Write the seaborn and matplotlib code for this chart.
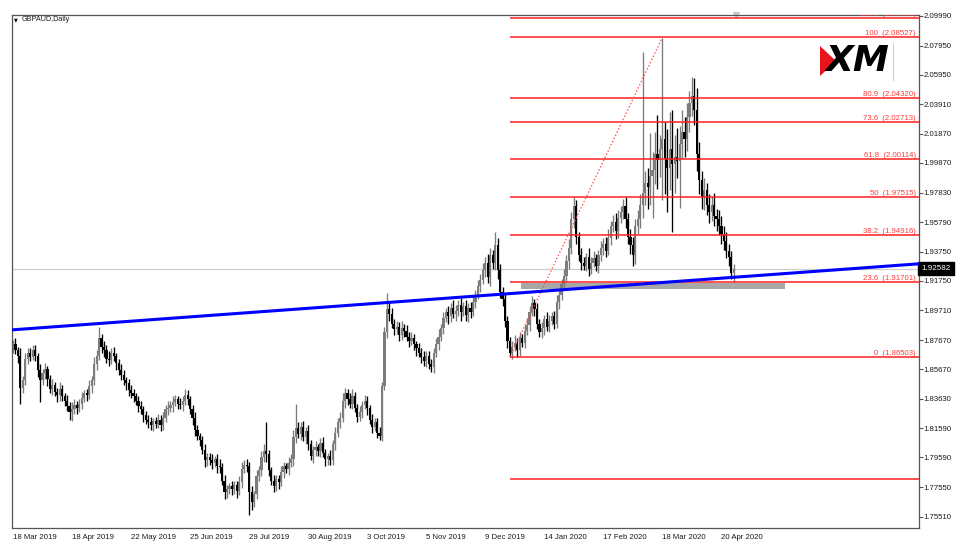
import numpy as np
import pandas as pd
import matplotlib
matplotlib.use('Agg')
import matplotlib.pyplot as plt
import matplotlib.transforms as mtransforms
from matplotlib.patches import Polygon, Rectangle
from matplotlib.lines import Line2D
import seaborn as sns

# Style: plain white MT4-like chart
sns.set_style('white')
plt.rcParams['font.family'] = ['Liberation Sans', 'DejaVu Sans']

symbol = 'GBPAUD,Daily'

# x axis: bar index of each date label
tick_bars = [0, 24, 48, 72, 96, 120, 144, 168, 192, 216, 240, 264, 288]
tick_dates = ['18 Mar 2019', '18 Apr 2019', '22 May 2019', '25 Jun 2019', '29 Jul 2019',
              '30 Aug 2019', '3 Oct 2019', '5 Nov 2019', '9 Dec 2019', '14 Jan 2020',
              '17 Feb 2020', '18 Mar 2020', '20 Apr 2020']

# y axis labels as shown by the terminal
price_ticks = [2.09990, 2.07950, 2.05950, 2.03910, 2.01870, 1.99870, 1.97830, 1.95790,
               1.93750, 1.91750, 1.89710, 1.87670, 1.85670, 1.83630, 1.81590, 1.79590,
               1.77550, 1.75510]

# daily closes (open = previous close)
first_open = 1.8720
closes = [
    1.8740, 1.8700, 1.8660, 1.8440, 1.8490, 1.8640, 1.8680, 1.8650, 1.8700, 1.8660,
    1.8560, 1.8490, 1.8540, 1.8570, 1.8500, 1.8430, 1.8460, 1.8410, 1.8390, 1.8430,
    1.8380, 1.8350, 1.8310, 1.8270, 1.8290, 1.8320, 1.8300, 1.8330, 1.8370, 1.8400,
    1.8390, 1.8450, 1.8490, 1.8600, 1.8660, 1.8780, 1.8720, 1.8700, 1.8640, 1.8630,
    1.8680, 1.8660, 1.8610, 1.8560, 1.8530, 1.8490, 1.8470, 1.8420, 1.8400, 1.8380,
    1.8350, 1.8310, 1.8290, 1.8250, 1.8220, 1.8200, 1.8180, 1.8210, 1.8190, 1.8220,
    1.8180, 1.8230, 1.8290, 1.8300, 1.8320, 1.8340, 1.8360, 1.8330, 1.8320, 1.8350,
    1.8390, 1.8360, 1.8290, 1.8230, 1.8150, 1.8110, 1.8080, 1.8010, 1.7940, 1.7960,
    1.7940, 1.7920, 1.7950, 1.7900, 1.7890, 1.7800, 1.7720, 1.7740, 1.7760, 1.7740,
    1.7770, 1.7730, 1.7790, 1.7880, 1.7910, 1.7900, 1.7720, 1.7650, 1.7710, 1.7830,
    1.7870, 1.7960, 1.8000, 1.7980, 1.7870, 1.7800, 1.7760, 1.7810, 1.7790, 1.7860,
    1.7900, 1.7880, 1.7920, 1.7950, 1.8100, 1.8160, 1.8120, 1.8170, 1.8100, 1.8140,
    1.8050, 1.7970, 1.8010, 1.8030, 1.8000, 1.8060, 1.7990, 1.7950, 1.7970, 1.7940,
    1.8050, 1.8130, 1.8200, 1.8230, 1.8350, 1.8400, 1.8360, 1.8330, 1.8380, 1.8300,
    1.8240, 1.8270, 1.8320, 1.8350, 1.8300, 1.8220, 1.8170, 1.8200, 1.8130, 1.8110,
    1.8450, 1.8820, 1.8980, 1.8950, 1.8880, 1.8840, 1.8860, 1.8800, 1.8850, 1.8830,
    1.8790, 1.8760, 1.8780, 1.8740, 1.8710, 1.8680, 1.8650, 1.8620, 1.8660, 1.8600,
    1.8580, 1.8680, 1.8740, 1.8790, 1.8850, 1.8920, 1.8960, 1.8930, 1.8990, 1.8950,
    1.8970, 1.9010, 1.8960, 1.9000, 1.8940, 1.8990, 1.8960, 1.9030, 1.9080, 1.9140,
    1.9180, 1.9250, 1.9300, 1.9200, 1.9350, 1.9300, 1.9420, 1.9250, 1.9100, 1.9050,
    1.8900, 1.8760, 1.8680, 1.8720, 1.8750, 1.8700, 1.8780, 1.8750, 1.8830, 1.8870,
    1.8960, 1.9020, 1.8980, 1.8880, 1.8820, 1.8850, 1.8910, 1.8860, 1.8900, 1.8930,
    1.8880, 1.9030, 1.9080, 1.9150, 1.9210, 1.9310, 1.9400, 1.9600, 1.9690, 1.9480,
    1.9350, 1.9300, 1.9280, 1.9340, 1.9260, 1.9300, 1.9330, 1.9280, 1.9350, 1.9400,
    1.9430, 1.9380, 1.9470, 1.9550, 1.9580, 1.9520, 1.9610, 1.9650, 1.9690, 1.9600,
    1.9480, 1.9420, 1.9350, 1.9550, 1.9600, 1.9700, 1.9780, 1.9850, 1.9820, 1.9900,
    1.9940, 2.0050, 2.0010, 2.0080, 2.0150, 2.0020, 1.9950, 2.0080, 1.9980, 2.0030,
    2.0000, 2.0120, 2.0200, 2.0150, 2.0300, 2.0400, 2.0450, 2.0350, 2.0050, 1.9870,
    1.9750, 1.9800, 1.9700, 1.9650, 1.9700, 1.9620, 1.9600, 1.9550, 1.9500, 1.9450,
    1.9380, 1.9340, 1.9230, 1.92582,
]

# upper / lower shadow lengths in units of 0.001
wick_up = [
    3, 4, 2, 5, 3, 4, 3, 3, 3, 3, 2, 4, 3, 4, 2, 3, 4, 2, 3, 5,
    3, 2, 4, 3, 5, 4, 3, 3, 4, 2, 3, 4, 3, 5, 4, 8, 3, 4, 3, 5,
    3, 4, 2, 3, 4, 3, 2, 3, 4, 3, 2, 3, 4, 2, 3, 3, 4, 2, 3, 4,
    3, 4, 3, 5, 3, 4, 3, 2, 4, 3, 4, 3, 2, 3, 4, 3, 2, 3, 4, 3,
    3, 4, 2, 3, 5, 3, 4, 3, 2, 4, 3, 3, 4, 5, 3, 4, 3, 4, 2, 4,
    3, 4, 5, 20, 3, 2, 4, 3, 3, 4, 3, 2, 4, 3, 5, 17, 4, 3, 4, 3,
    4, 3, 3, 4, 2, 3, 4, 3, 2, 4, 3, 4, 3, 4, 5, 4, 3, 4, 5, 3,
    3, 4, 3, 4, 3, 2, 4, 3, 3, 4, 3, 4, 11, 5, 4, 3, 4, 3, 5, 3,
    4, 3, 4, 3, 2, 4, 3, 4, 3, 3, 4, 3, 4, 5, 3, 4, 3, 4, 3, 5,
    4, 3, 5, 3, 4, 3, 4, 5, 3, 4, 4, 5, 4, 6, 5, 4, 9, 5, 4, 3,
    4, 3, 3, 4, 5, 3, 4, 3, 4, 5, 4, 5, 3, 4, 3, 4, 3, 5, 4, 3,
    4, 5, 3, 4, 5, 4, 6, 5, 6, 4, 3, 5, 4, 3, 6, 4, 5, 3, 4, 5,
    4, 5, 6, 4, 5, 6, 5, 4, 5, 6, 4, 5, 6, 5, 6, 7, 97, 8, 10, 29,
    12, 15, 27, 10, 70, 12, 20, 26, 27, 15, 20, 12, 15, 10, 10, 8, 13, 12, 15, 8,
    6, 8, 5, 7, 6, 8, 5, 6, 7, 5, 6, 5, 4, 3,
]
wick_dn = [
    4, 3, 5, 11, 4, 3, 4, 3, 2, 4, 5, 15, 3, 4, 5, 3, 4, 3, 5, 4,
    3, 4, 3, 5, 6, 3, 4, 3, 4, 3, 4, 3, 5, 3, 4, 3, 4, 5, 3, 4,
    3, 4, 5, 3, 4, 3, 5, 4, 3, 4, 3, 4, 3, 5, 3, 4, 3, 4, 3, 3,
    4, 3, 3, 4, 3, 5, 3, 4, 3, 4, 3, 4, 3, 5, 4, 3, 4, 3, 5, 4,
    3, 4, 3, 5, 4, 3, 5, 4, 3, 4, 3, 5, 3, 4, 3, 4, 16, 5, 3, 4,
    3, 4, 3, 5, 4, 3, 4, 3, 5, 3, 4, 3, 4, 3, 5, 4, 3, 4, 3, 5,
    4, 3, 5, 4, 3, 4, 3, 5, 4, 3, 3, 4, 3, 4, 3, 5, 4, 3, 4, 3,
    4, 3, 4, 3, 5, 3, 4, 3, 4, 3, 4, 3, 4, 5, 3, 4, 3, 4, 3, 4,
    3, 4, 3, 4, 5, 3, 4, 3, 4, 3, 3, 4, 3, 4, 3, 4, 3, 5, 4, 3,
    5, 4, 6, 3, 4, 5, 4, 3, 4, 3, 4, 3, 5, 4, 6, 4, 5, 6, 4, 5,
    4, 5, 3, 4, 3, 5, 4, 3, 4, 3, 4, 3, 5, 4, 3, 4, 5, 3, 4, 3,
    4, 3, 5, 4, 3, 4, 5, 4, 6, 5, 4, 5, 3, 4, 5, 4, 3, 4, 5, 4,
    5, 4, 3, 5, 4, 6, 5, 4, 5, 6, 5, 6, 7, 6, 5, 6, 9, 8, 15, 12,
    29, 10, 20, 12, 35, 25, 30, 15, 47, 20, 12, 32, 10, 12, 8, 10, 9, 10, 12, 10,
    8, 9, 7, 8, 6, 7, 8, 6, 7, 6, 5, 6, 4, 6,
]

last_price = 1.92582

# Fibonacci retracement drawn from the Dec 2019 low to the Mar 2020 high
fib_start_bar, fib_end_bar = 202, 264
fib_low, fib_high = 1.86503, 2.08527
fib_ratios = ['0', '23.6', '38.2', '50', '61.8', '73.6', '80.9', '100', '105.9']
fib_prices = [1.86503, 1.91701, 1.94916, 1.97515, 2.00114, 2.02713, 2.04320, 2.08527, 2.09826]
extra_level = 1.78090

# long-term trendline anchors (bar, price)
trend_a = (0, 1.8838)
trend_b = (368, 1.9292)

# grey support zone (bars, prices)
zone_bars = (206.5, 314.0)
zone_prices = (1.9117, 1.9163)

# ---- build OHLC ----
df = pd.DataFrame({'close': closes})
df['open'] = df['close'].shift(1).fillna(first_open)
df['high'] = df[['open', 'close']].max(axis=1) + np.array(wick_up) / 1000
df['low'] = df[['open', 'close']].min(axis=1) - np.array(wick_dn) / 1000
df['bar'] = np.arange(len(df))
up = df['close'] >= df['open']

W, H = 964, 552
fig = plt.figure(figsize=(W / 100, H / 100), dpi=100)
ax = fig.add_axes([12 / W, 1 - 527.5 / H, 906.5 / W, 513 / H])

bull_col = '#7c7c7c'
bear_col = '#000000'

# current price line
ax.axhline(last_price, color='#cfcfcf', lw=0.9, zorder=0.5)

# support zone
ax.add_patch(Rectangle((zone_bars[0], zone_prices[0]), zone_bars[1] - zone_bars[0],
                       zone_prices[1] - zone_prices[0], facecolor='#a8a8a8',
                       edgecolor='none', zorder=1))

# candles
for mask, col in [(up, bull_col), (~up, bear_col)]:
    d = df[mask]
    ax.vlines(d['bar'], d['low'], d['high'], color=col, lw=0.95, zorder=2)
    body_lo = d[['open', 'close']].min(axis=1)
    body_h = (d['close'] - d['open']).abs()
    ax.bar(d['bar'], body_h, bottom=body_lo, width=0.88, color=col, linewidth=0, zorder=2)

# fibo levels
lvl_tf = mtransforms.blended_transform_factory(ax.transAxes, ax.transData)
for r, p in zip(fib_ratios, fib_prices):
    ax.hlines(p, fib_start_bar, 400, color='#ff2020', lw=1.1, zorder=3)
    ax.text(0.997, p, f'{r}  ({p:.5f})', transform=lvl_tf,
            ha='right', va='bottom', fontsize=5.6, color='#ff3a3a', zorder=4, clip_on=True)
ax.hlines(extra_level, fib_start_bar, 400, color='#ff2020', lw=1.1, zorder=3)
sns.lineplot(x=[fib_start_bar, fib_end_bar], y=[fib_low, fib_high], ax=ax,
             color='#ff5050', lw=0.9, linestyle=(0, (1.2, 1.6)), zorder=3)

# trendline
ax.axline(trend_a, trend_b, color='#0000ff', lw=2.2, zorder=5)

ax.set_xlim(-0.4, 368.1)
ax.set_ylim(1.74766, 2.1009)

# axes styling
for s in ax.spines.values():
    s.set_color('#555555')
    s.set_linewidth(0.9)
ax.yaxis.tick_right()
ax.set_yticks(price_ticks)
ax.set_yticklabels([f'{p:.5f}' for p in price_ticks])
ax.set_xticks(tick_bars)
ax.set_xticklabels(tick_dates)
ax.tick_params(axis='both', direction='out', length=3, width=0.8, color='#555555',
               labelsize=5.6, labelcolor='#1a1a1a')
ax.tick_params(axis='x', pad=1.5)
ax.tick_params(axis='y', pad=0.6, left=False, right=True)
plt.setp(ax.get_xticklabels(), ha='left')
ax.set_xlabel('')
ax.set_ylabel('')

# last price tag
ax.text(1.003, last_price, '1.92582', transform=lvl_tf,
        ha='left', va='center', fontsize=5.8, color='white', clip_on=False,
        bbox=dict(boxstyle='square,pad=0.4', facecolor='black', edgecolor='black'))

# chart shift marker
ax.plot([293.8], [1.0], marker='v', ms=4, color='#c8c8c8',
        transform=mtransforms.blended_transform_factory(ax.transData, ax.transAxes), clip_on=False)

# symbol caption
fig.text(16 / W, 1 - 19.5 / H, '\u25bc', fontsize=3.5, family='DejaVu Sans', ha='center', va='center', color='black')
fig.text(22 / W, 1 - 19.5 / H, symbol, fontsize=5.2, ha='left', va='center', color='#1a1a1a')

# XM logo
fig.patches.append(Polygon([[820 / W, 1 - 46 / H], [836 / W, 1 - 61 / H], [820 / W, 1 - 76 / H]],
                           closed=True, transform=fig.transFigure, facecolor='#e8141b', edgecolor='none'))
fig.text(826 / W, 1 - 61 / H, 'XM', fontsize=26, fontweight='heavy', style='italic',
         family='DejaVu Sans', ha='left', va='center', color='black')
fig.lines.append(Line2D([893 / W, 893 / W], [1 - 43 / H, 1 - 80 / H], transform=fig.transFigure,
                        color='#d0d0d0', lw=0.8))

fig.savefig('out.png', dpi=100)
